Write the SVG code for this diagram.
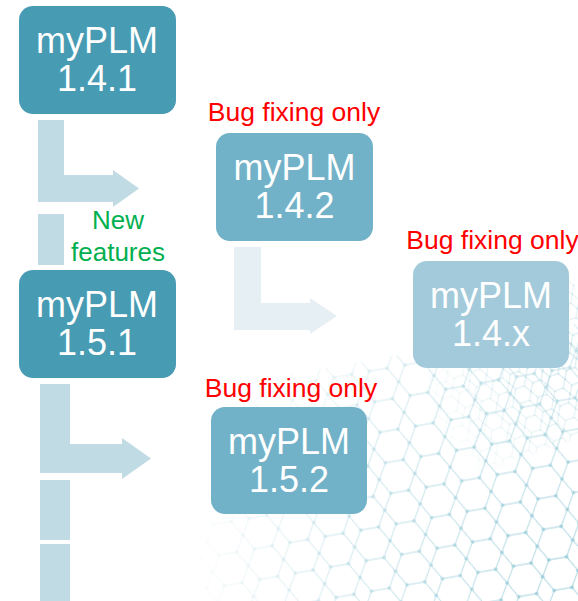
<svg xmlns="http://www.w3.org/2000/svg" width="578" height="601" viewBox="0 0 578 601">
  <style>
    .lbl { font-family: "Liberation Sans", Arial, sans-serif; font-size: 36px; fill: #ffffff; text-anchor: middle; }
    .red { font-family: "Liberation Sans", Arial, sans-serif; font-size: 26.5px; fill: #ff0000; text-anchor: middle; }
    .grn { font-family: "Liberation Sans", Arial, sans-serif; font-size: 26px; fill: #00b050; text-anchor: middle; }
    .a1 { fill: #c1dbe4; }
    .a2 { fill: #e6eff3; }
  </style>
  <defs>
    <pattern id="hex" width="36" height="31" patternUnits="userSpaceOnUse">
      <path d="M0 15.5 L9 0 L27 0 L36 15.5 L27 31 L9 31 Z" fill="none" stroke="#8cc6d4" stroke-width="1"/>
      <circle cx="9" cy="0" r="1.8" fill="#7fbfcf"/>
      <circle cx="27" cy="0" r="1.8" fill="#7fbfcf"/>
      <circle cx="0" cy="15.5" r="1.8" fill="#7fbfcf"/>
      <circle cx="36" cy="15.5" r="1.8" fill="#7fbfcf"/>
      <circle cx="9" cy="31" r="1.8" fill="#7fbfcf"/>
      <circle cx="27" cy="31" r="1.8" fill="#7fbfcf"/>
    </pattern>
    <pattern id="hexs" width="18" height="15.5" patternUnits="userSpaceOnUse">
      <path d="M0 7.75 L4.5 0 L13.5 0 L18 7.75 L13.5 15.5 L4.5 15.5 Z" fill="none" stroke="#8cc6d4" stroke-width="0.8"/>
      <circle cx="4.5" cy="0" r="1.1" fill="#7fbfcf"/>
      <circle cx="13.5" cy="0" r="1.1" fill="#7fbfcf"/>
      <circle cx="0" cy="7.75" r="1.1" fill="#7fbfcf"/>
      <circle cx="18" cy="7.75" r="1.1" fill="#7fbfcf"/>
    </pattern>
    <radialGradient id="fade" cx="570" cy="570" r="380" gradientUnits="userSpaceOnUse">
      <stop offset="0" stop-color="#fff" stop-opacity="0.85"/>
      <stop offset="0.6" stop-color="#fff" stop-opacity="0.45"/>
      <stop offset="1" stop-color="#fff" stop-opacity="0"/>
    </radialGradient>
    <radialGradient id="fade2" cx="560" cy="360" r="150" gradientUnits="userSpaceOnUse">
      <stop offset="0" stop-color="#fff" stop-opacity="0.6"/>
      <stop offset="1" stop-color="#fff" stop-opacity="0"/>
    </radialGradient>
    <mask id="m">
      <rect x="0" y="0" width="578" height="601" fill="url(#fade)"/>
    </mask>
    <mask id="m2">
      <rect x="0" y="0" width="578" height="601" fill="url(#fade2)"/>
    </mask>
  </defs>

  <g id="background">
    <g mask="url(#m)">
      <rect x="150" y="330" width="500" height="331" fill="url(#hex)" transform="rotate(-10 560 560)"/>
    </g>
    <g mask="url(#m2)">
      <rect x="400" y="280" width="200" height="160" fill="url(#hexs)" transform="rotate(-20 560 360)"/>
    </g>
  </g>

  <g id="connectors">
    <polygon class="a1" points="38,120 64,120 64,175 113,175 113,170 139,188.5 113,207 113,202 38,202"/>
    <rect class="a1" x="38" y="214" width="26" height="51"/>
    <polygon class="a2" points="234,247 261,247 261,303 310,303 310,298 337,316 310,334 310,330 234,330"/>
    <polygon class="a1" points="40,384 70,384 70,444 122,444 122,438 151,458.5 122,479 122,473 40,473"/>
    <rect class="a1" x="40" y="480" width="30" height="60"/>
    <rect class="a1" x="40" y="544" width="30" height="57"/>
  </g>

  <g id="node-141">
    <rect x="19" y="6" width="157" height="108" rx="14" fill="#479bb3"/>
    <text class="lbl" x="97" y="53">myPLM</text>
    <text class="lbl" x="97" y="91">1.4.1</text>
  </g>

  <g id="node-151">
    <rect x="19" y="270" width="157" height="108" rx="14" fill="#479bb3"/>
    <text class="lbl" x="97" y="317">myPLM</text>
    <text class="lbl" x="97" y="355">1.5.1</text>
  </g>

  <g id="node-142">
    <text class="red" x="294" y="121">Bug fixing only</text>
    <rect x="216" y="133" width="157" height="108" rx="14" fill="#72b2c8"/>
    <text class="lbl" x="294.5" y="180">myPLM</text>
    <text class="lbl" x="294.5" y="218">1.4.2</text>
  </g>

  <g id="node-14x">
    <text class="red" x="492.5" y="249">Bug fixing only</text>
    <rect x="413" y="261" width="156" height="107" rx="14" fill="#a3cada"/>
    <text class="lbl" x="491" y="308">myPLM</text>
    <text class="lbl" x="491" y="346">1.4.x</text>
  </g>

  <g id="node-152">
    <text class="red" x="291" y="397">Bug fixing only</text>
    <rect x="211" y="407" width="156" height="107" rx="14" fill="#72b2c8"/>
    <text class="lbl" x="289" y="454">myPLM</text>
    <text class="lbl" x="289" y="492">1.5.2</text>
  </g>

  <g id="label-new-features">
    <text class="grn" x="118" y="229">New</text>
    <text class="grn" x="118" y="261">features</text>
  </g>
</svg>
